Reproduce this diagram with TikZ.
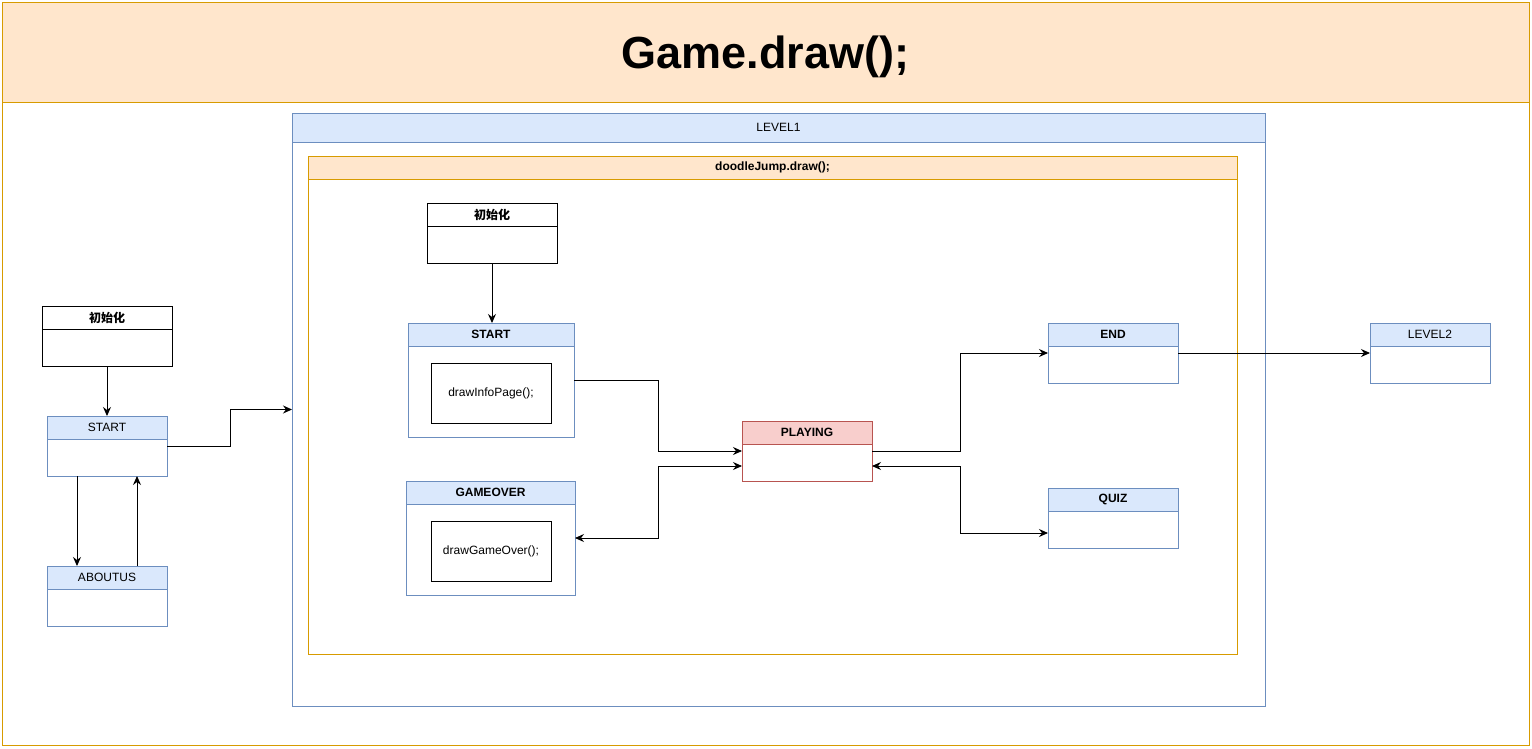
\documentclass[tikz,border=0pt]{standalone}
\usepackage{fontspec}
\setmainfont{Liberation Sans}
\newfontfamily\cjk{Noto Sans CJK SC}
\usetikzlibrary{arrows.meta}
\definecolor{ofill}{HTML}{FFE6CC}
\definecolor{ostroke}{HTML}{D79B00}
\definecolor{bfill}{HTML}{DAE8FC}
\definecolor{bstroke}{HTML}{6C8EBF}
\definecolor{rfill}{HTML}{F8CECC}
\definecolor{rstroke}{HTML}{B85450}
\tikzset{
  base/.style={inner sep=0pt, outer sep=0pt, line width=0.9pt, font=\fontsize{12}{14}\selectfont},
  obody/.style={base, draw=ostroke, fill=white},
  ohead/.style={base, draw=ostroke, fill=ofill},
  tbody/.style={obody},
  thead/.style={ohead, text height=32pt, text depth=0pt, font=\fontsize{45}{54}\selectfont\bfseries},
  bbody/.style={base, draw=bstroke, fill=white},
  bhead/.style={base, draw=bstroke, fill=bfill},
  rbody/.style={base, draw=rstroke, fill=white},
  rhead/.style={base, draw=rstroke, fill=rfill},
  kbody/.style={base, draw=black, fill=white},
  khead/.style={base, draw=black, fill=white},
  inner/.style={base, draw=black, fill=white, anchor=north west, minimum width=120pt, minimum height=60pt},
  tip/.tip={Stealth[length=9pt,width=8pt,inset=3pt]},
  arr/.style={line width=0.9pt, -tip},
  arrb/.style={line width=0.9pt, tip-tip}
}
\newcommand\lanebox[8]{%
  \node[#7body, anchor=north west, minimum width=#4pt, minimum height=#5pt] (#1) at (#2,#3) {};
  \node[#7head, anchor=north west, minimum width=#4pt, minimum height=#6pt] (#1-h) at (#2,#3) {#8};
}
\begin{document}
\begin{tikzpicture}[x=1pt,y=-1pt]
\fill[white] (0,0) rectangle (1532,748);
\useasboundingbox (0,0) rectangle (1532,748);
% outer container
\lanebox{game}{2}{2}{1527}{743}{100}{t}{Game.draw();}
% LEVEL1
\lanebox{level1}{292}{113}{973}{593}{29}{b}{LEVEL1}
% doodleJump
\lanebox{doodle}{308}{156}{929}{498}{23}{o}{\bfseries doodleJump.draw();}
% left side
\lanebox{linit}{42}{306}{130}{60}{23}{k}{\cjk\bfseries 初始化}
\lanebox{lstart}{47}{416}{120}{60}{23}{b}{START}
\lanebox{aboutus}{47}{566}{120}{60}{23}{b}{ABOUTUS}
% inner
\lanebox{iinit}{427}{203}{130}{60}{23}{k}{\cjk\bfseries 初始化}
\lanebox{istart}{408}{323}{166}{114}{23}{b}{\bfseries START}
\node[inner] (info) at (431,363) {drawInfoPage();};
\lanebox{gameover}{406}{481}{169}{114}{23}{b}{\bfseries GAMEOVER}
\node[inner] (govr) at (431,521) {drawGameOver();};
\lanebox{playing}{742}{421}{130}{60}{23}{r}{\bfseries PLAYING}
\lanebox{end}{1048}{323}{130}{60}{23}{b}{\bfseries END}
\lanebox{quiz}{1048}{488}{130}{60}{23}{b}{\bfseries QUIZ}
\lanebox{level2}{1370}{323}{120}{60}{23}{b}{LEVEL2}
% connectors left
\draw[arr] (linit.south) -- (lstart.north);
\draw[arr] ([xshift=-30pt]lstart.south) -- ([xshift=-30pt]aboutus.north);
\draw[arr] ([xshift=30pt]aboutus.north) -- ([xshift=30pt]lstart.south);
\draw[arr] (lstart.east) -- ++(63,0) |- (level1.west);
% inner connectors
\draw[arr] (iinit.south) -- (iinit.south |- istart.north);
\draw[arr] (istart.east) -- ++(84,0) |- (playing.west);
\draw[arrb] (gameover.east) -- ++(83,0) |- ([yshift=-15pt]playing.west);
\draw[arr] (playing.east) -- ++(88,0) |- (end.west);
\draw[arrb] ([yshift=-15pt]playing.east) -- ++(88,0) |- ([yshift=-15pt]quiz.west);
\draw[arr] (end.east) -- (level2.west);
\end{tikzpicture}
\end{document}
